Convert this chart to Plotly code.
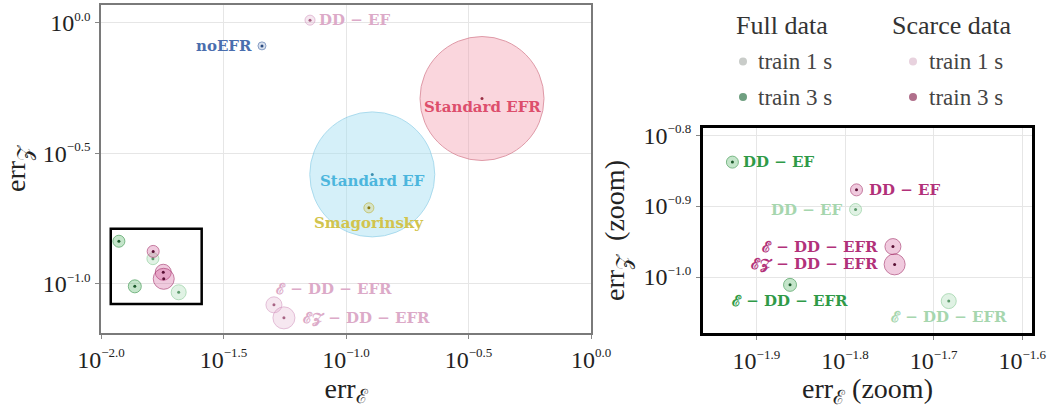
import math
import plotly.graph_objects as go

# ---------------- data ----------------
full_3s_labels = ["DD − EF", "ℰ − DD − EFR"]
full_3s_errE = [0.01183, 0.01374]
full_3s_errZ = [0.1452, 0.0975]
full_3s_bubble = [12, 13]

full_1s_labels = ["DD − EF", "ℰ − DD − EFR"]
full_1s_errE = [0.01629, 0.02075]
full_1s_errZ = [0.1245, 0.0925]
full_1s_bubble = [12, 15]

scarce_3s_labels = ["DD − EF", "ℰ − DD − EFR", "ℰ𝒵 − DD − EFR"]
scarce_3s_errE = [0.01633, 0.01795, 0.01803]
scarce_3s_errZ = [0.1327, 0.1104, 0.1042]
scarce_3s_bubble = [12, 16, 21]

scarce_1s_labels = ["DD − EF", "ℰ − DD − EFR", "ℰ𝒵 − DD − EFR"]
scarce_1s_errE = [0.0713, 0.0508, 0.0558]
scarce_1s_errZ = [1.023, 0.0828, 0.0738]
scarce_1s_bubble = [10, 16, 22]

baseline_labels = ["Standard EF", "Standard EFR", "Smagorinsky", "noEFR"]
baseline_errE = [0.128, 0.359, 0.124, 0.0454]
baseline_errZ = [0.262, 0.512, 0.195, 0.815]
baseline_bubble = [125, 124, 10, 8]

zoom_window_errE = [0.01096, 0.02576]
zoom_window_errZ = [0.0834, 0.1622]

main_errE_exps = [-2.0, -1.5, -1.0, -0.5, 0.0]
main_errZ_exps = [-1.0, -0.5, 0.0]
zoom_errE_exps = [-1.9, -1.8, -1.7, -1.6]
zoom_errZ_exps = [-1.0, -0.9, -0.8]

legend_titles = ["Full data", "Scarce data"]
legend_entries = ["train 1 s", "train 3 s"]

# ---------------- styles ----------------
SERIF = "Liberation Serif"
LABEL = "DejaVu Serif"

sty = {
    "full3": dict(fill="rgba(70,175,90,0.45)", line="rgba(40,140,60,0.85)", dot="#1d5a2c", text="#2f9a48"),
    "full1": dict(fill="rgba(160,215,170,0.45)", line="rgba(130,200,145,0.85)", dot="#5d9a6c", text="#a6d6ae"),
    "scar3": dict(fill="rgba(205,70,140,0.40)", line="rgba(160,40,100,0.85)", dot="#5a1035", text="#b2317a"),
    "scar1": dict(fill="rgba(225,170,205,0.40)", line="rgba(210,150,190,0.85)", dot="#a86585", text="#dcaac8"),
}
base_fill = ["rgba(160,222,242,0.62)", "rgba(242,150,170,0.55)", "rgba(215,200,80,0.40)", "rgba(80,115,175,0.30)"]
base_line = ["rgba(125,200,228,0.9)", "rgba(205,100,120,0.9)", "rgba(190,175,50,0.9)", "rgba(70,105,165,0.9)"]
base_dot = ["#3c8fb0", "#9a3045", "#8a7a10", "#2c4c80"]
base_text = ["#4cb6dd", "#dd4e6c", "#d2c44e", "#4a6eae"]

# label placement (anchor, xshift, yshift) in pixels
base_pos = [("center", 0, -7), ("center", 0, -8), ("center", 0, -15), ("right", -8, 0)]
scar1_pos = [("left", 7, 0), ("left", 0, 16), ("left", 17, 0)]
full3_pos = [("left", 9, 0), ("center", 0, -16)]
full1_pos = [("right", -12, 0), ("center", 0, -16)]
scar3_pos = [("left", 10, 0), ("right", -13, 0), ("right", -15, 0)]

fig = go.Figure()


def add_points(x, y, size, fill, line, dot):
    for xa, ya in (("x", "y"), ("x2", "y2")):
        fig.add_trace(go.Scatter(
            x=x, y=y, mode="markers", xaxis=xa, yaxis=ya, showlegend=False, hoverinfo="skip",
            marker=dict(size=size, color=fill, line=dict(color=line, width=1))))
        fig.add_trace(go.Scatter(
            x=x, y=y, mode="markers", xaxis=xa, yaxis=ya, showlegend=False, hoverinfo="skip",
            marker=dict(size=3, color=dot, line=dict(width=0))))


add_points(baseline_errE, baseline_errZ, baseline_bubble, base_fill, base_line, base_dot)
for key, ex, ez, bb in (("full1", full_1s_errE, full_1s_errZ, full_1s_bubble),
                        ("full3", full_3s_errE, full_3s_errZ, full_3s_bubble),
                        ("scar1", scarce_1s_errE, scarce_1s_errZ, scarce_1s_bubble),
                        ("scar3", scarce_3s_errE, scarce_3s_errZ, scarce_3s_bubble)):
    s = sty[key]
    add_points(ex, ez, bb, s["fill"], s["line"], s["dot"])

annotations = []


def add_labels(labels, ex, ez, pos, colors, xref, yref):
    for i, lab in enumerate(labels):
        anc, dx, dy = pos[i]
        col = colors[i] if isinstance(colors, list) else colors
        annotations.append(dict(
            x=math.log10(ex[i]), y=math.log10(ez[i]), xref=xref, yref=yref,
            text=lab, showarrow=False, xanchor=anc, yanchor="middle",
            xshift=dx, yshift=dy,
            font=dict(family=LABEL, size=15, color=col, weight="bold")))


add_labels(baseline_labels, baseline_errE, baseline_errZ, base_pos, base_text, "x", "y")
add_labels(scarce_1s_labels, scarce_1s_errE, scarce_1s_errZ, scar1_pos, sty["scar1"]["text"], "x", "y")
add_labels(full_3s_labels, full_3s_errE, full_3s_errZ, full3_pos, sty["full3"]["text"], "x2", "y2")
add_labels(full_1s_labels, full_1s_errE, full_1s_errZ, full1_pos, sty["full1"]["text"], "x2", "y2")
add_labels(scarce_3s_labels, scarce_3s_errE, scarce_3s_errZ, scar3_pos, sty["scar3"]["text"], "x2", "y2")


def ttext(e):
    return ("10<sup><span style='font-size:13px'>" + f"{e:.1f}".replace("-", "−")
            + "</span></sup>")


W, H = 1054, 408
tickfont = dict(family=SERIF, size=24, color="#222")
titlefont = dict(family=SERIF, size=28, color="#222")

common = dict(type="log", showgrid=True, gridcolor="#e6e6e6", gridwidth=1, showline=True,
              mirror=True, ticks="outside", ticklen=4, tickcolor="#888", tickfont=tickfont,
              zeroline=False, automargin=False)

fig.update_layout(
    width=W, height=H, margin=dict(l=0, r=0, t=0, b=0),
    paper_bgcolor="white", plot_bgcolor="white", template="none",
    xaxis=dict(**common, domain=[101 / W, 591 / W], anchor="y",
               range=[main_errE_exps[0], main_errE_exps[-1]],
               tickvals=[10 ** e for e in main_errE_exps], ticktext=[ttext(e) for e in main_errE_exps],
               linecolor="#7a7a7a", linewidth=1.5,
               title=dict(text="err<sub>ℰ</sub>", font=titlefont, standoff=4)),
    yaxis=dict(**common, domain=[1 - 333 / H, 1 - 5 / H], anchor="x",
               range=[-1.19, 0.068],
               tickvals=[10 ** e for e in main_errZ_exps], ticktext=[ttext(e) for e in main_errZ_exps],
               linecolor="#7a7a7a", linewidth=1.5,
               title=dict(text="err<sub>𝒵</sub>", font=titlefont, standoff=12)),
    xaxis2=dict(**common, domain=[703 / W, 1032 / W], anchor="y2",
                range=[math.log10(zoom_window_errE[0]), math.log10(zoom_window_errE[1])],
                tickvals=[10 ** e for e in zoom_errE_exps], ticktext=[ttext(e) for e in zoom_errE_exps],
                linecolor="black", linewidth=3,
                title=dict(text="err<sub>ℰ</sub> (zoom)", font=titlefont, standoff=4)),
    yaxis2=dict(**common, domain=[1 - 333 / H, 1 - 128 / H], anchor="x2",
                range=[math.log10(zoom_window_errZ[0]), math.log10(zoom_window_errZ[1])],
                tickvals=[10 ** e for e in zoom_errZ_exps], ticktext=[ttext(e) for e in zoom_errZ_exps],
                linecolor="black", linewidth=3,
                title=dict(text="err<sub>𝒵</sub>&nbsp; (zoom)", font=titlefont, standoff=11)),
)

shapes = [dict(type="rect", xref="x", yref="y",
               x0=zoom_window_errE[0], x1=zoom_window_errE[1],
               y0=zoom_window_errZ[0], y1=zoom_window_errZ[1],
               line=dict(color="black", width=2.5), fillcolor="rgba(0,0,0,0)")]

# legend (drawn in paper coordinates)
leg_title_x = [782, 952]
leg_dot_x = [743, 913]
leg_text_x = [756, 927]
leg_row_y = [61.5, 97]
leg_dot_col = [["#c9ccc9", "#6f9f80"], ["#e8d2de", "#b06f8b"]]
for g, title in enumerate(legend_titles):
    annotations.append(dict(x=leg_title_x[g] / W, y=1 - 25 / H, xref="paper", yref="paper",
                            text=title, showarrow=False, xanchor="center", yanchor="middle",
                            font=dict(family=SERIF, size=26, color="#333")))
    for r, entry in enumerate(legend_entries):
        annotations.append(dict(x=leg_text_x[g] / W, y=1 - leg_row_y[r] / H, xref="paper", yref="paper",
                                text=entry, showarrow=False, xanchor="left", yanchor="middle",
                                font=dict(family=SERIF, size=23, color="#444")))
        shapes.append(dict(type="circle", xref="paper", yref="paper",
                           xsizemode="pixel", ysizemode="pixel",
                           xanchor=leg_dot_x[g] / W, yanchor=1 - leg_row_y[r] / H,
                           x0=-4, x1=4, y0=-4, y1=4,
                           fillcolor=leg_dot_col[g][r], line=dict(width=0)))

fig.update_layout(annotations=annotations, shapes=shapes)
fig.write_html("out.html")
